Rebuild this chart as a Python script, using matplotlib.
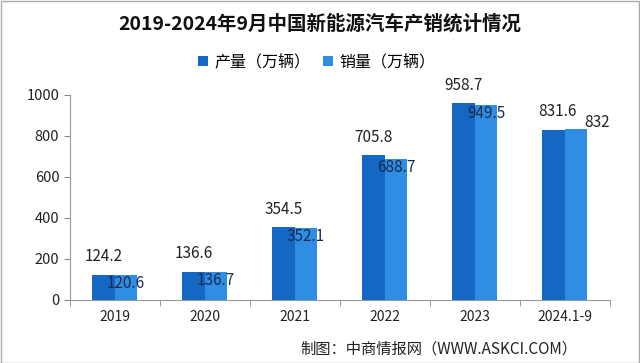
import matplotlib
matplotlib.use('Agg')
import matplotlib.pyplot as plt
import numpy as np
from matplotlib.patches import Rectangle

plt.rcParams['font.family'] = ['Noto Sans CJK SC', 'DejaVu Sans']

years = ['2019', '2020', '2021', '2022', '2023', '2024.1-9']
prod = [124.2, 136.6, 354.5, 705.8, 958.7, 831.6]
sales = [120.6, 136.7, 352.1, 688.7, 949.5, 832]
prod_lbl = ['124.2', '136.6', '354.5', '705.8', '958.7', '831.6']
sales_lbl = ['120.6', '136.7', '352.1', '688.7', '949.5', '832']

c_prod = '#1467C2'
c_sales = '#2F8EE3'

fig = plt.figure(figsize=(6.4, 3.63), dpi=100)
ax = fig.add_axes([0.109, 0.1736, 0.844, 0.5647])

x = np.arange(len(years))
w = 0.25
ax.bar(x - w/2, prod, w, color=c_prod, label='产量（万辆）', zorder=3)
ax.bar(x + w/2, sales, w, color=c_sales, label='销量（万辆）', zorder=3)

for i in range(len(years)):
    # production label above the bar
    dx = 3 if i == 5 else 0
    ax.annotate(prod_lbl[i], (x[i] - w/2, prod[i]), xytext=(dx, 13),
                textcoords='offset points', ha='center', va='center',
                fontsize=11, color='#222222', zorder=5)
    if i == 5:
        ax.annotate(sales_lbl[i], (x[i] + w/2, sales[i]), xytext=(15, 5),
                    textcoords='offset points', ha='center', va='center',
                    fontsize=11, color='#222222', zorder=5)
    else:
        ax.annotate(sales_lbl[i], (x[i] + w/2, sales[i]), xytext=(0, -6),
                    textcoords='offset points', ha='center', va='center',
                    fontsize=11, color='#1a2a50', zorder=5)

ax.set_xlim(-0.5, len(years) - 0.5)
ax.set_ylim(0, 1000)
ax.set_yticks([0, 200, 400, 600, 800, 1000])
ax.set_xticks(x)
ax.set_xticklabels(years)
ax.set_xticks(np.arange(-0.5, len(years)), minor=True)
ax.tick_params(axis='x', which='major', length=0, labelsize=10, pad=7, colors='#222222')
ax.tick_params(axis='x', which='minor', length=4, color='#888888')
ax.tick_params(axis='y', length=4, color='#888888', labelsize=10.5, colors='#222222')
for s in ['top', 'right']:
    ax.spines[s].set_visible(False)
for s in ['left', 'bottom']:
    ax.spines[s].set_color('#999999')

fig.text(0.5, 0.935, '2019-2024年9月中国新能源汽车产销统计情况', ha='center', va='center',
         fontsize=14, fontweight='bold', color='#111111')
fig.legend(loc='center', bbox_to_anchor=(0.495, 0.83), ncol=2, frameon=False,
           fontsize=11.5, handlelength=0.6, handleheight=0.6, columnspacing=0.8,
           handletextpad=0.4)
fig.text(0.902, 0.039, '制图：中商情报网（WWW.ASKCI.COM）', ha='right', va='center',
         fontsize=11, color='#222222')

fig.patches.append(Rectangle((0.001, 0.001), 0.998, 0.997, transform=fig.transFigure,
                             fill=False, edgecolor='#aaaaaa', linewidth=1))

fig.savefig('out.png', dpi=100)
